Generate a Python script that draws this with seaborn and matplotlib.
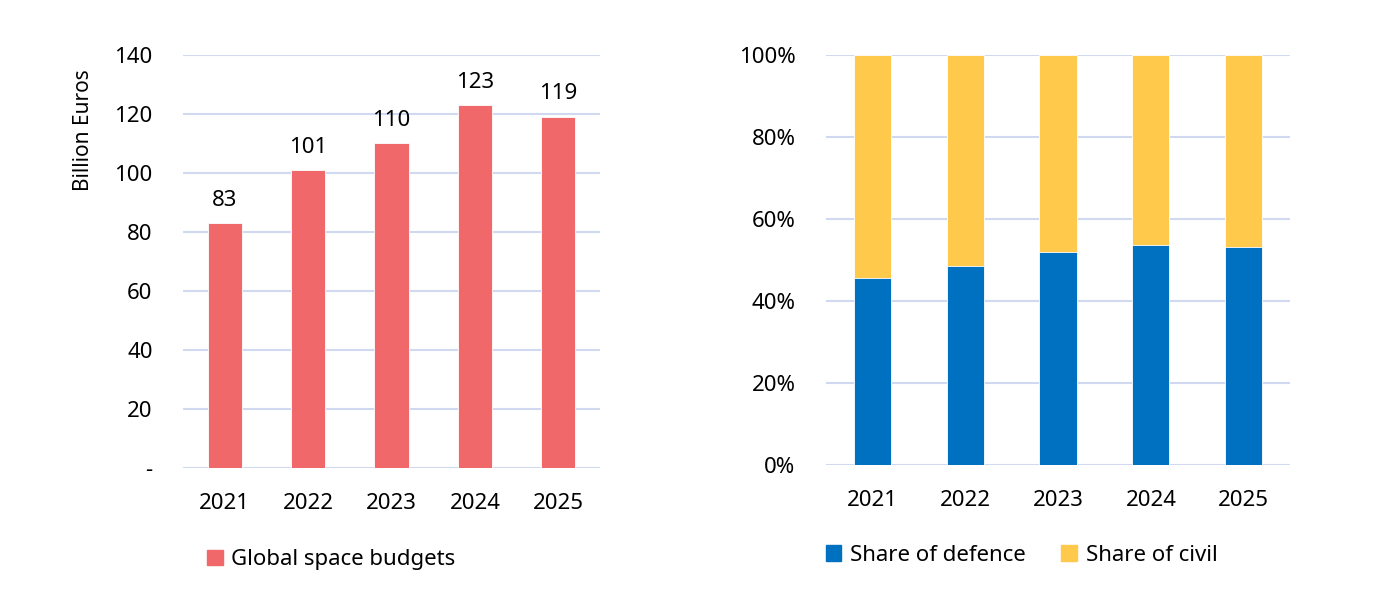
import matplotlib
matplotlib.use("Agg")
import matplotlib.pyplot as plt
import matplotlib.patches as mpatches
import seaborn as sns
import pandas as pd

years = ["2021", "2022", "2023", "2024", "2025"]
budgets = [83, 101, 110, 123, 119]
defence_share = [45.5, 48.6, 51.9, 53.7, 53.2]
civil_share = [100 - d for d in defence_share]

RED = "#F06869"
BLUE = "#0070C0"
YELLOW = "#FFC94B"
GRID = "#D0D9F0"

sns.set_theme(style="white")
plt.rcParams["font.family"] = ["Noto Sans", "DejaVu Sans"]
plt.rcParams["text.color"] = "black"
FS = 16

fig = plt.figure(figsize=(13.9, 6.04), dpi=100)
ax1 = fig.add_axes([0.1317, 0.225, 0.300, 0.684])
ax2 = fig.add_axes([0.5942, 0.230, 0.334, 0.679])

# Left chart
df1 = pd.DataFrame({"year": years, "budget": budgets})
sns.barplot(data=df1, x="year", y="budget", color=RED, width=0.41,
            saturation=1, ax=ax1, zorder=3)
ax1.set_ylim(0, 140)
ax1.set_yticks(range(0, 141, 20))
ax1.set_yticklabels(["-"] + [str(v) for v in range(20, 141, 20)])
ax1.set_xlim(-0.5, 4.5)
for i, v in enumerate(budgets):
    ax1.annotate(str(v), (i, v), xytext=(0, 9), textcoords="offset points",
                 ha="center", va="bottom", fontsize=FS, color="black")
ax1.set_ylabel("Billion Euros", fontsize=FS - 1, color="black")
ax1.yaxis.set_label_coords(-0.213, 0.818)
ax1.set_xlabel("")
ax1.legend(handles=[mpatches.Patch(color=RED, label="Global space budgets")],
           loc="center left", bbox_to_anchor=(0.036, -0.222), frameon=False,
           fontsize=FS, handlelength=0.7, handleheight=0.7, handletextpad=0.4,
           borderaxespad=0)

# Right chart
df2 = pd.DataFrame({"year": years, "defence": defence_share,
                    "total": [d + c for d, c in zip(defence_share, civil_share)]})
sns.barplot(data=df2, x="year", y="total", color=YELLOW, width=0.4,
            saturation=1, ax=ax2, zorder=3)
sns.barplot(data=df2, x="year", y="defence", color=BLUE, width=0.4,
            saturation=1, ax=ax2, zorder=4)
ax2.set_ylim(0, 100)
ax2.set_yticks(range(0, 101, 20))
ax2.set_yticklabels([f"{v}%" for v in range(0, 101, 20)])
ax2.set_xlim(-0.5, 4.5)
ax2.set_xlabel("")
ax2.set_ylabel("")
ax2.legend(handles=[mpatches.Patch(color=BLUE, label="Share of defence"),
                    mpatches.Patch(color=YELLOW, label="Share of civil")],
           loc="center left", bbox_to_anchor=(-0.02, -0.22), frameon=False,
           fontsize=FS, ncol=2, handlelength=0.7, handleheight=0.7,
           handletextpad=0.4, columnspacing=1.6, borderaxespad=0)

for ax in (ax1, ax2):
    for s in ax.spines.values():
        s.set_visible(False)
    ax.yaxis.grid(True, color=GRID, linewidth=1.5, zorder=0)
    ax.set_axisbelow(True)
    ax.tick_params(axis="both", length=0, labelsize=FS, colors="black")
    ax.tick_params(axis="x", pad=18)
    ax.tick_params(axis="y", pad=22)
    for p in ax.patches:
        p.set_edgecolor("white")
        p.set_linewidth(0.6)

fig.savefig("out.png", dpi=100, facecolor="white")
